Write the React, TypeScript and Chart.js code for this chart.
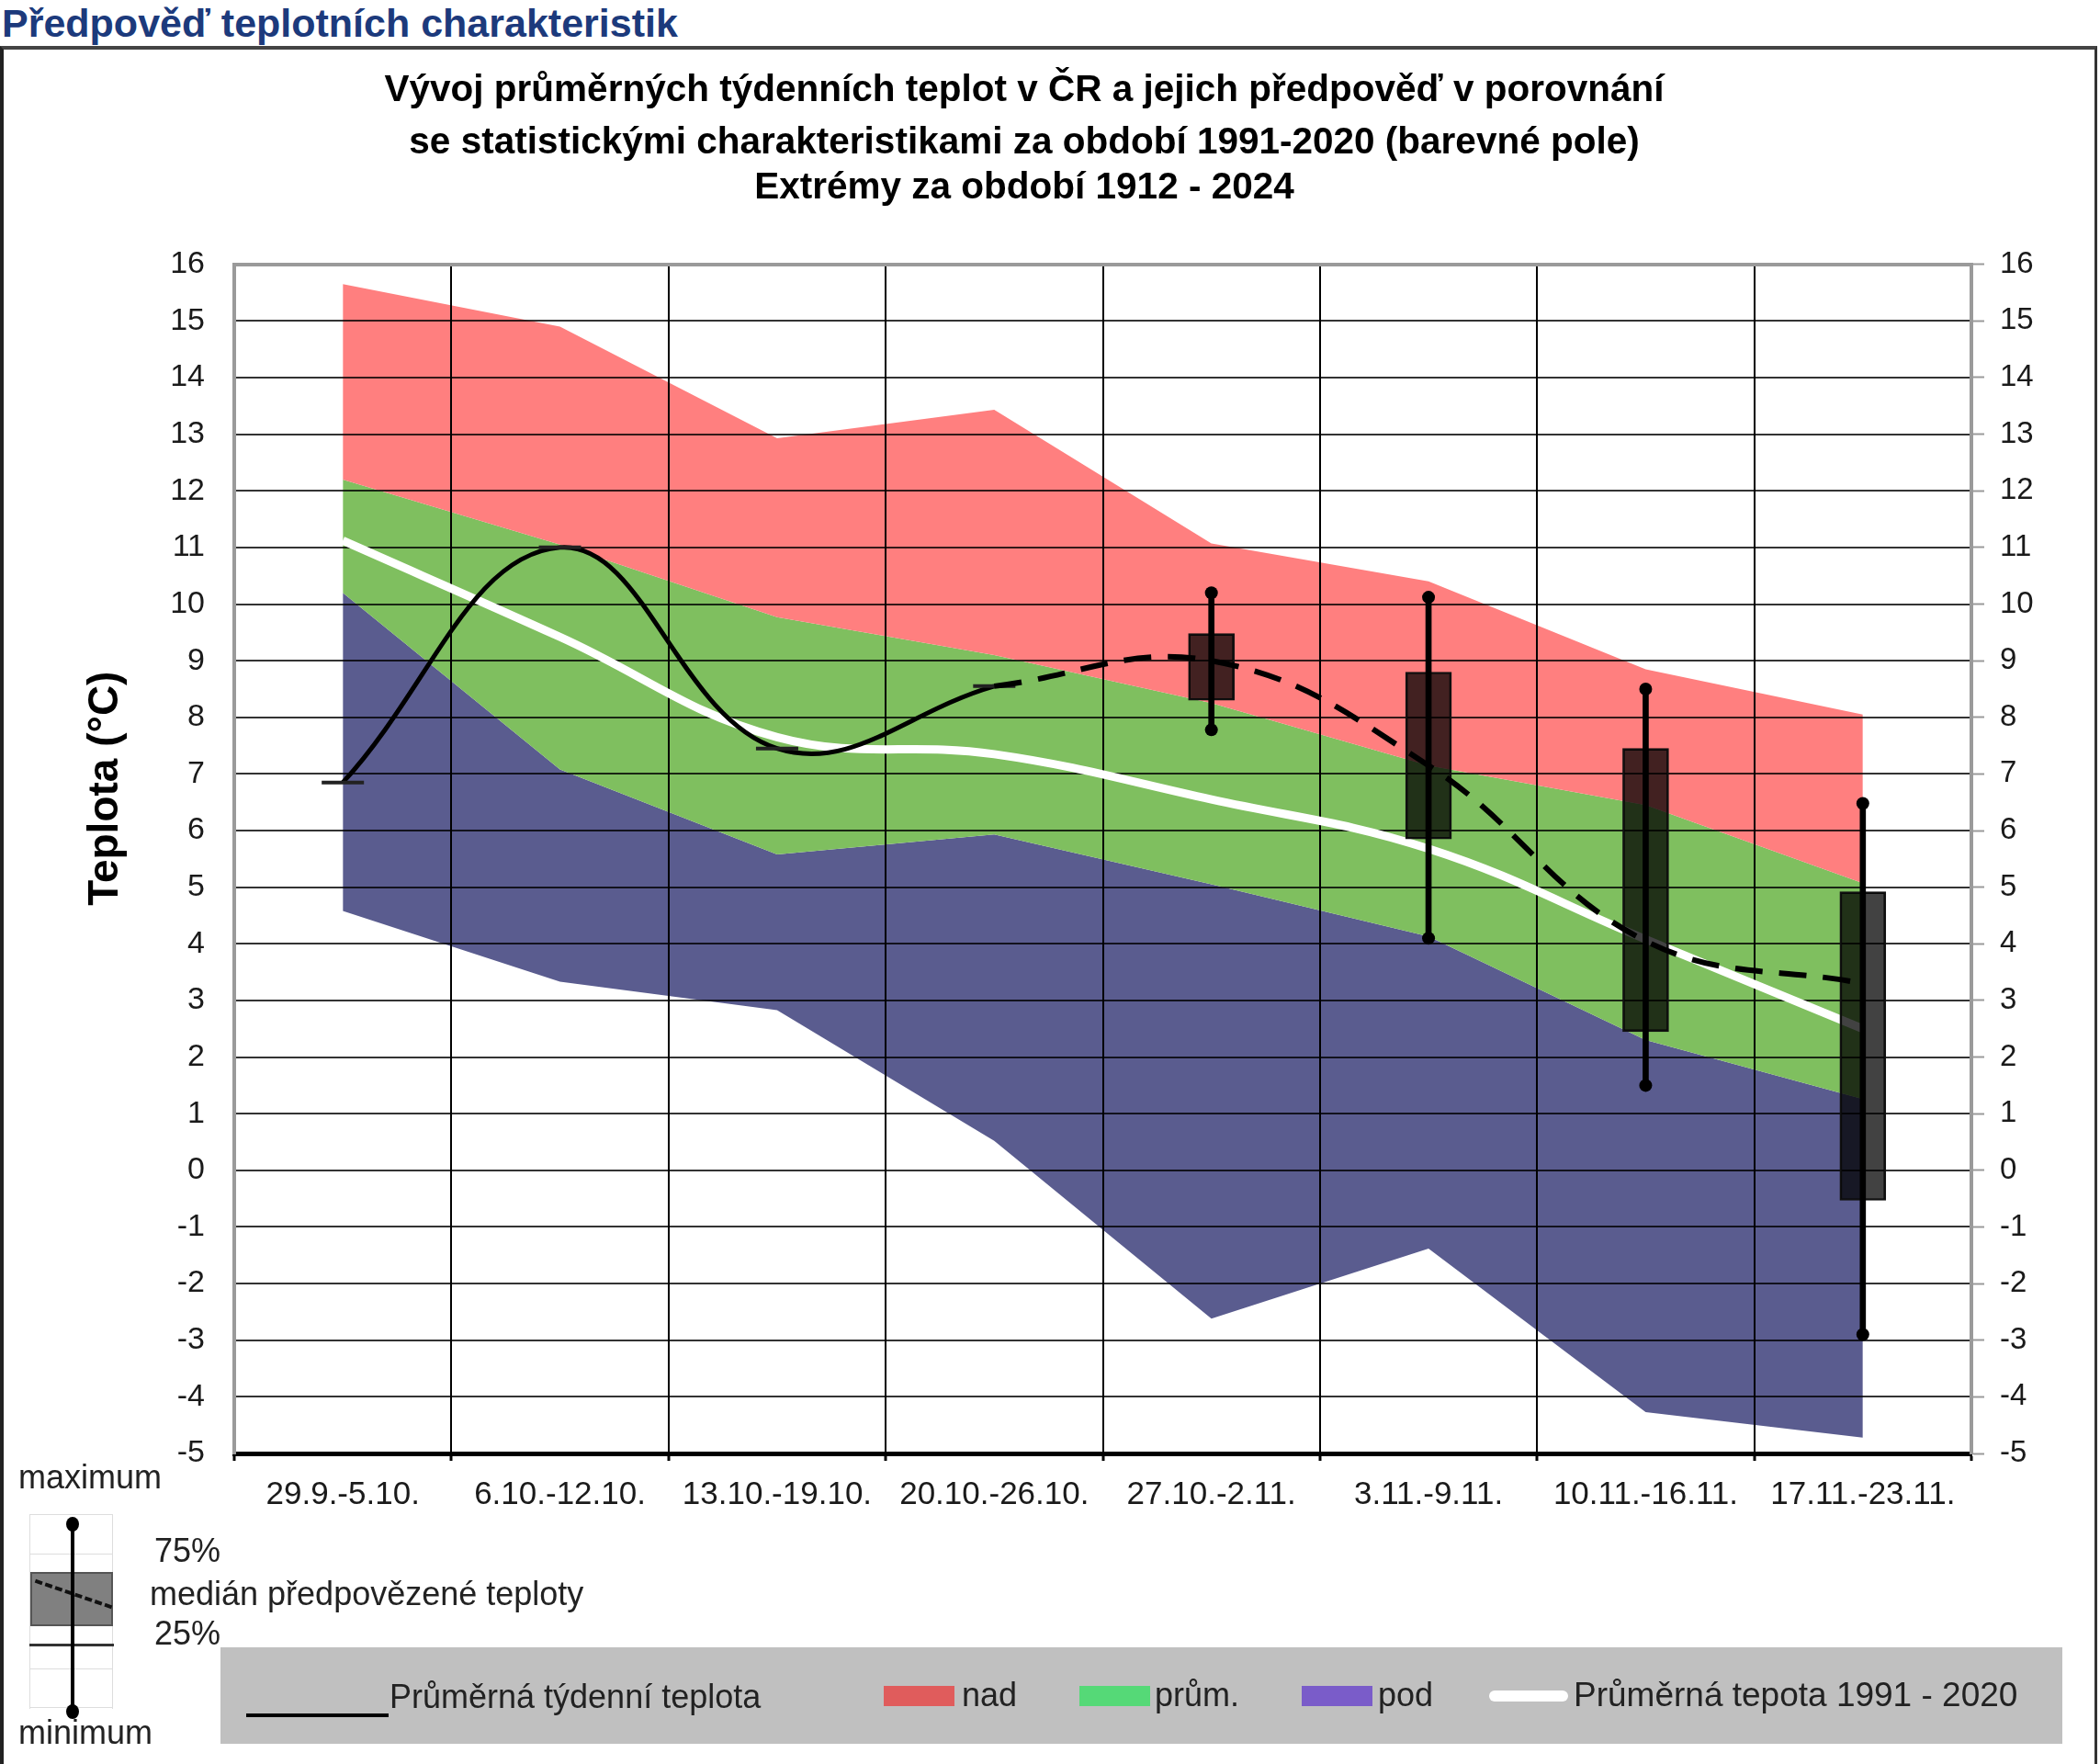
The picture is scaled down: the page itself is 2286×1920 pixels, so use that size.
import React, { useEffect, useRef } from 'react';
import { Chart, registerables } from 'chart.js';

Chart.register(...registerables);

const FONT = "'Liberation Sans', Arial, Helvetica, sans-serif";

// ---------- data ----------
const categories = ['29.9.-5.10.', '6.10.-12.10.', '13.10.-19.10.', '20.10.-26.10.', '27.10.-2.11.', '3.11.-9.11.', '10.11.-16.11.', '17.11.-23.11.'];

// extremes 1912-2024 and 1991-2020 normal band boundaries
const extremeMax = [15.65, 14.9, 12.93, 13.43, 11.07, 10.4, 8.85, 8.05];
const aboveNormal = [12.2, 11.05, 9.77, 9.1, 8.25, 7.15, 6.45, 5.07];
const belowNormal = [10.2, 7.08, 5.58, 5.93, 5.05, 4.13, 2.3, 1.26];
const extremeMin = [4.58, 3.33, 2.83, 0.52, -2.62, -1.38, -4.27, -4.72];

// average 1991-2020
const normal1991 = [11.12, 9.42, 7.65, 7.35, 6.55, 5.68, 4.08, 2.5];

// observed weekly mean
const weeklyMean = [6.85, 11.0, 7.45, 8.55, null, null, null, null];

// forecast
const forecastMedian = [null, null, null, 8.55, 9.0, 7.15, 4.05, 3.3];
const forecastP25 = [null, null, null, null, 8.3, 5.85, 2.45, -0.53];
const forecastP75 = [null, null, null, null, 9.48, 8.8, 7.45, 4.92];
const forecastMin = [null, null, null, null, 7.78, 4.1, 1.5, -2.9];
const forecastMax = [null, null, null, null, 10.2, 10.12, 8.5, 6.48];

const yMin = -5;
const yMax = 16;

const titleLines = [
  'Vývoj průměrných týdenních teplot v ČR a jejich předpověď v porovnání',
  'se statistickými charakteristikami za období 1991-2020 (barevné pole)',
];
const subtitleLine = 'Extrémy za období 1912 - 2024';

const COL_RED = '#FF7F7F';
const COL_GREEN = '#7FBF5F';
const COL_BLUE = '#5A5C8F';

function Txt(props: { x: number; y: number; size?: number; children: React.ReactNode; color?: string }) {
  const size = props.size ?? 36;
  return (
    <div
      style={{
        position: 'absolute',
        left: props.x,
        top: props.y - size * 0.6,
        height: size * 1.2,
        lineHeight: `${size * 1.2}px`,
        fontSize: size,
        color: props.color ?? '#222',
        whiteSpace: 'nowrap',
        fontFamily: FONT,
      }}
    >
      {props.children}
    </div>
  );
}

export default function App() {
  const ref = useRef<HTMLCanvasElement | null>(null);

  useEffect(() => {
    document.body.style.margin = '0';
    const canvas = ref.current;
    if (!canvas) return;
    Chart.defaults.font.family = FONT;

    const rangePairs = (lo: (number | null)[], hi: (number | null)[]) =>
      lo.map((v, i) => (v == null || hi[i] == null ? null : [v, hi[i] as number]));

    const chart = new Chart(canvas, {
      type: 'line',
      data: {
        labels: categories,
        datasets: [
          {
            label: 'max',
            data: extremeMax,
            borderColor: 'rgba(0,0,0,0)',
            borderWidth: 0,
            backgroundColor: COL_RED,
            pointRadius: 0,
            tension: 0,
            fill: '+1',
            order: 20,
          },
          {
            label: 'nad',
            data: aboveNormal,
            borderColor: 'rgba(0,0,0,0)',
            borderWidth: 0,
            backgroundColor: COL_GREEN,
            pointRadius: 0,
            tension: 0,
            fill: '+1',
            order: 21,
          },
          {
            label: 'pod',
            data: belowNormal,
            borderColor: 'rgba(0,0,0,0)',
            borderWidth: 0,
            backgroundColor: COL_BLUE,
            pointRadius: 0,
            tension: 0,
            fill: '+1',
            order: 22,
          },
          {
            label: 'min',
            data: extremeMin,
            borderColor: 'rgba(0,0,0,0)',
            borderWidth: 0,
            pointRadius: 0,
            tension: 0,
            fill: false,
            order: 23,
          },
          {
            label: 'Průměrná tepota 1991 - 2020',
            data: normal1991,
            borderColor: '#FFFFFF',
            borderWidth: 9,
            pointRadius: 0,
            tension: 0.4,
            fill: false,
            order: 10,
          },
          {
            type: 'bar',
            label: 'box',
            data: rangePairs(forecastP25, forecastP75) as any,
            backgroundColor: 'rgba(0,0,0,0.74)',
            borderColor: '#111',
            borderWidth: 2,
            borderSkipped: false,
            barThickness: 50,
            grouped: false,
            order: 8,
          } as any,
          {
            type: 'bar',
            label: 'whisker',
            data: rangePairs(forecastMin, forecastMax) as any,
            backgroundColor: '#000',
            borderWidth: 0,
            barThickness: 6,
            grouped: false,
            order: 6,
          } as any,
          {
            label: 'maxDot',
            data: forecastMax,
            showLine: false,
            pointRadius: 7,
            pointBackgroundColor: '#000',
            pointBorderWidth: 0,
            order: 5,
          },
          {
            label: 'minDot',
            data: forecastMin,
            showLine: false,
            pointRadius: 7,
            pointBackgroundColor: '#000',
            pointBorderWidth: 0,
            order: 5,
          },
          {
            label: 'Průměrná týdenní teplota',
            data: weeklyMean,
            borderColor: '#000',
            borderWidth: 5,
            tension: 0.4,
            pointStyle: 'line',
            pointRadius: 23,
            pointBorderColor: '#222',
            pointBorderWidth: 4,
            fill: false,
            order: 2,
          },
          {
            label: 'medián předpovězené teploty',
            data: forecastMedian,
            borderColor: '#000',
            borderWidth: 6,
            borderDash: [30, 18],
            tension: 0.4,
            pointRadius: 0,
            fill: false,
            order: 1,
          },
        ],
      },
      options: {
        animation: false,
        responsive: false,
        maintainAspectRatio: false,
        events: [],
        layout: { padding: { left: 0, right: 56, top: 70, bottom: 258 } },
        plugins: {
          legend: { display: false },
          tooltip: { enabled: false },
          filler: { drawTime: 'beforeDraw', propagate: false } as any,
          title: {
            display: true,
            text: titleLines,
            color: '#000',
            font: { size: 40.5, weight: 'bold', lineHeight: 1.41 },
            padding: { top: 0, bottom: 0 },
          },
          subtitle: {
            display: true,
            text: subtitleLine,
            color: '#000',
            font: { size: 40.5, weight: 'bold', lineHeight: 1 },
            padding: { top: 0, bottom: 63 },
          },
        },
        scales: {
          x: {
            type: 'category',
            offset: true,
            afterFit: (s: any) => {
              s.height = 80;
            },
            grid: {
              offset: true,
              color: (c: any) => (c.index === 0 || c.index >= categories.length ? 'rgba(0,0,0,0)' : '#000'),
              lineWidth: 2,
              drawTicks: true,
              tickLength: 8,
              tickColor: '#000',
              tickWidth: 3,
            },
            border: { display: true, color: '#000', width: 5 },
            ticks: {
              autoSkip: false,
              maxRotation: 0,
              color: '#1a1a1a',
              font: { size: 35 },
              padding: 16,
            },
          },
          y: {
            type: 'linear',
            position: 'left',
            min: yMin,
            max: yMax,
            afterFit: (s: any) => {
              s.width = 255;
            },
            grid: {
              color: (c: any) =>
                c.tick && c.tick.value === yMax ? '#9a9a9a' : c.tick && c.tick.value === yMin ? 'rgba(0,0,0,0)' : 'rgba(0,0,0,0.8)',
              lineWidth: (c: any) => (c.tick && c.tick.value === yMax ? 4 : 2),
              drawTicks: false,
            },
            border: { display: true, color: '#9a9a9a', width: 4 },
            ticks: {
              stepSize: 1,
              maxTicksLimit: 30,
              autoSkip: false,
              color: '#1a1a1a',
              font: { size: 34 },
              padding: 32,
            },
            title: {
              display: true,
              text: '            Teplota (°C)',
              color: '#000',
              font: { size: 46, weight: 'bold' },
              padding: { top: 88, bottom: 0 },
            },
          },
          y2: {
            type: 'linear',
            position: 'right',
            min: yMin,
            max: yMax,
            afterFit: (s: any) => {
              s.width = 84;
            },
            grid: {
              drawOnChartArea: false,
              drawTicks: true,
              tickLength: 14,
              tickColor: '#9a9a9a',
              tickWidth: 2,
            },
            border: { display: true, color: '#9a9a9a', width: 4 },
            ticks: {
              stepSize: 1,
              maxTicksLimit: 30,
              autoSkip: false,
              color: '#1a1a1a',
              font: { size: 33 },
              padding: 17,
            },
          },
        },
      } as any,
    });
    return () => chart.destroy();
  }, []);

  return (
    <div style={{ position: 'relative', width: 2286, height: 1920, overflow: 'hidden', background: '#fff', fontFamily: FONT }}>
      {/* page header */}
      <div
        style={{
          position: 'absolute',
          left: 2,
          top: 0,
          height: 50,
          lineHeight: '50px',
          fontSize: 43,
          fontWeight: 'bold',
          color: '#1c3a7c',
          whiteSpace: 'nowrap',
        }}
      >
        Předpověď teplotních charakteristik
      </div>
      {/* frame */}
      <div
        style={{
          position: 'absolute',
          left: 0,
          top: 50,
          width: 2283,
          height: 1900,
          boxSizing: 'border-box',
          borderTop: '4px solid #444',
          borderLeft: '4px solid #222',
          borderRight: '3px solid #333',
        }}
      />
      {/* grey legend bar background */}
      <div style={{ position: 'absolute', left: 240, top: 1793, width: 2005, height: 105, background: '#c0c0c0' }} />

      <canvas ref={ref} width={2286} height={1920} style={{ position: 'absolute', left: 0, top: 0, width: 2286, height: 1920 }} />

      {/* legend bar items */}
      <div style={{ position: 'absolute', left: 268, top: 1865, width: 155, height: 4, background: '#000' }} />
      <Txt x={424} y={1847}>Průměrná týdenní teplota</Txt>
      <div style={{ position: 'absolute', left: 962, top: 1835, width: 77, height: 22, background: '#E05C5C' }} />
      <Txt x={1047} y={1845}>nad</Txt>
      <div style={{ position: 'absolute', left: 1175, top: 1835, width: 77, height: 22, background: '#55D977' }} />
      <Txt x={1257} y={1845}>prům.</Txt>
      <div style={{ position: 'absolute', left: 1417, top: 1835, width: 77, height: 22, background: '#7A5CC9' }} />
      <Txt x={1500} y={1845}>pod</Txt>
      <div style={{ position: 'absolute', left: 1621, top: 1840, width: 86, height: 12, background: '#fff', borderRadius: 6 }} />
      <Txt x={1713} y={1845} size={37}>Průměrná tepota 1991 - 2020</Txt>

      {/* box-plot explanation */}
      <Txt x={20} y={1608}>maximum</Txt>
      <div style={{ position: 'absolute', left: 32, top: 1648, width: 90, height: 1, background: '#ddd' }} />
      <div style={{ position: 'absolute', left: 32, top: 1691, width: 90, height: 1, background: '#ddd' }} />
      <div style={{ position: 'absolute', left: 32, top: 1816, width: 90, height: 1, background: '#ddd' }} />
      <div style={{ position: 'absolute', left: 32, top: 1858, width: 90, height: 1, background: '#ddd' }} />
      <div style={{ position: 'absolute', left: 32, top: 1648, width: 1, height: 212, background: '#ddd' }} />
      <div style={{ position: 'absolute', left: 122, top: 1648, width: 1, height: 212, background: '#ddd' }} />
      <div
        style={{
          position: 'absolute',
          left: 33,
          top: 1711,
          width: 90,
          height: 59,
          boxSizing: 'border-box',
          background: '#808080',
          border: '2px solid #555',
        }}
      />
      <div
        style={{
          position: 'absolute',
          left: 36,
          top: 1733,
          width: 88,
          height: 0,
          borderTop: '4px dashed #111',
          transform: 'rotate(19deg)',
          transformOrigin: 'center',
        }}
      />
      <div style={{ position: 'absolute', left: 32, top: 1789, width: 92, height: 3, background: '#333' }} />
      <div style={{ position: 'absolute', left: 77, top: 1660, width: 4, height: 202, background: '#000' }} />
      <div style={{ position: 'absolute', left: 72, top: 1651, width: 14, height: 16, borderRadius: '50%', background: '#000' }} />
      <div style={{ position: 'absolute', left: 72, top: 1855, width: 14, height: 16, borderRadius: '50%', background: '#000' }} />
      <Txt x={168} y={1688}>75%</Txt>
      <Txt x={163} y={1735}>medián předpovězené teploty</Txt>
      <Txt x={168} y={1778}>25%</Txt>
      <Txt x={20} y={1886}>minimum</Txt>
    </div>
  );
}
